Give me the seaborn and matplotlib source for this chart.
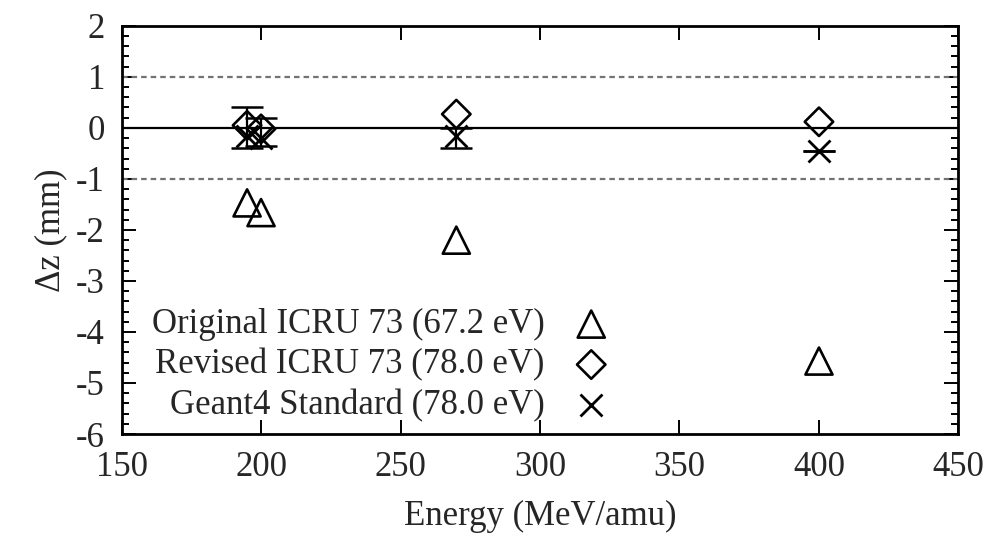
import matplotlib
matplotlib.use("Agg")
import matplotlib.pyplot as plt
from matplotlib.ticker import MultipleLocator
import seaborn as sns
import pandas as pd

# Beam energies (MeV/amu) and range shifts (mm)
energy = [195, 200, 270, 400]
original_icru73 = [-1.47, -1.66, -2.20, -4.57]
revised_icru73 = [0.05, -0.02, 0.27, 0.12]
geant4_standard = [-0.15, -0.20, -0.15, -0.46]
# Uncertainty band limits around the Geant4 values
err_low = [-0.39, -0.35, -0.40, -0.46]
err_high = [0.40, 0.19, 0.00, -0.46]

labels = [
    "Original ICRU 73 (67.2 eV)",
    "Revised ICRU 73 (78.0 eV)",
    "Geant4 Standard (78.0 eV)",
]
x_ticks = [150, 200, 250, 300, 350, 400, 450]
y_ticks = [-6, -5, -4, -3, -2, -1, 0, 1, 2]

sns.set_theme(style="ticks")
plt.rcParams["font.family"] = ["Liberation Serif", "DejaVu Serif"]
plt.rcParams["axes.unicode_minus"] = False

fig = plt.figure(figsize=(10.07, 5.39), dpi=100)
ax = fig.add_axes([0.1207, 0.1948, 0.8311, 0.7572])

# Reference lines
ax.axhline(0, color="black", lw=1.6, zorder=1)
for yv in (1, -1):
    ax.axhline(yv, color="0.45", lw=1.6, ls=(0, (2.5, 1.8)), zorder=1)

df_o = pd.DataFrame({"E": energy, "dz": original_icru73})
df_r = pd.DataFrame({"E": energy, "dz": revised_icru73})
df_g = pd.DataFrame({"E": energy, "dz": geant4_standard})

yerr = [
    [g - lo for g, lo in zip(geant4_standard, err_low)],
    [hi - g for g, hi in zip(geant4_standard, err_high)],
]
ax.errorbar(energy, geant4_standard, yerr=yerr, fmt="none", ecolor="black",
            elinewidth=1.6, capsize=11.5, capthick=1.8, zorder=2)

sns.scatterplot(data=df_o, x="E", y="dz", ax=ax, marker="^", s=380,
                facecolors="none", edgecolor="black", linewidth=1.9,
                label=labels[0], zorder=3)
sns.scatterplot(data=df_r, x="E", y="dz", ax=ax, marker="D", s=210,
                facecolors="none", edgecolor="black", linewidth=1.9,
                label=labels[1], zorder=3)
sns.scatterplot(data=df_g, x="E", y="dz", ax=ax, marker="x", s=250,
                color="black", linewidth=2.0, label=labels[2], zorder=3)

ax.set_xlim(150, 450)
ax.set_ylim(-6, 2)
ax.set_xticks(x_ticks)
ax.set_yticks(y_ticks)
ax.yaxis.set_minor_locator(MultipleLocator(0.2))
ax.tick_params(which="both", direction="in", top=True, right=True,
               labelsize=25, color="black", width=1.4)
ax.tick_params(which="major", length=10, pad=12)
ax.tick_params(which="minor", length=5)
for sp in ax.spines.values():
    sp.set_linewidth(2.0)
    sp.set_color("black")

ax.set_xlabel("Energy (MeV/amu)", fontsize=25, labelpad=12)
ax.set_ylabel("Δz (mm)", fontsize=25, labelpad=6)

ax.legend(loc="lower right", bbox_to_anchor=(0.611, -0.022), frameon=False,
          markerfirst=False, fontsize=25, handlelength=1.2,
          handletextpad=0.75, labelspacing=0.21, borderpad=0.1)

fig.savefig("out.png", dpi=100)
